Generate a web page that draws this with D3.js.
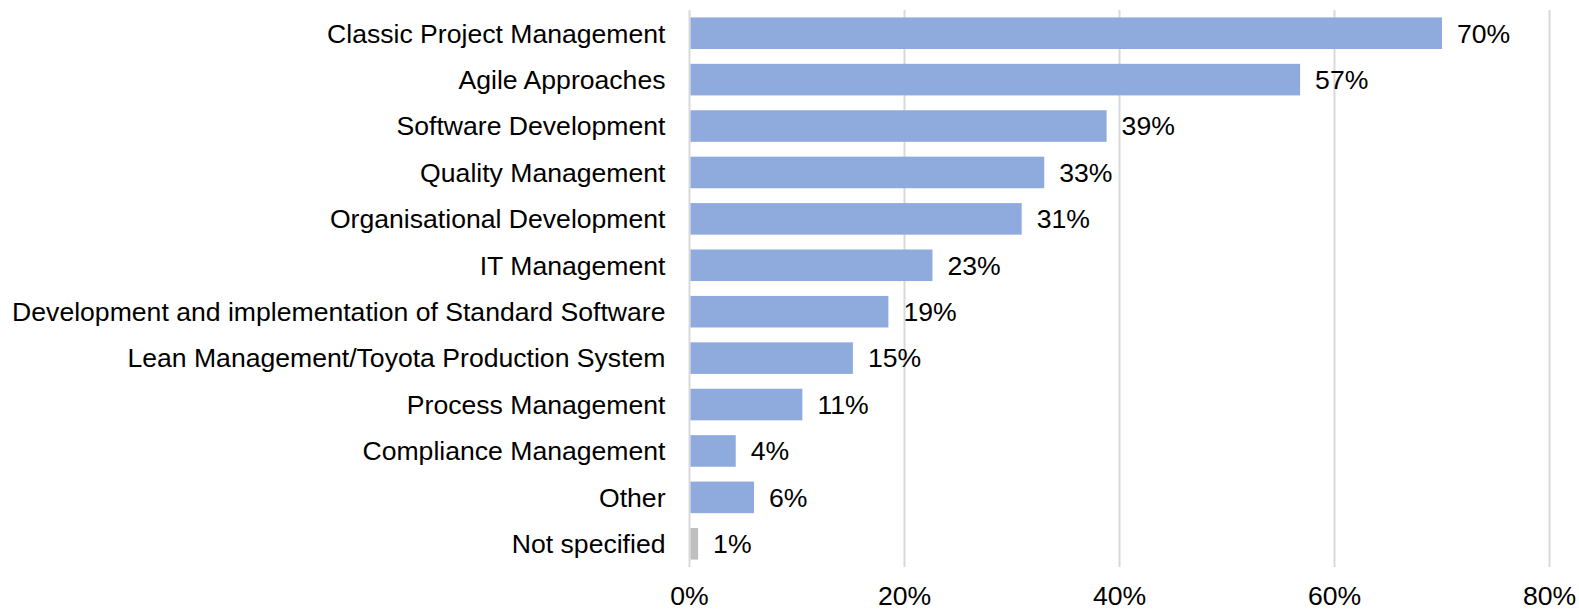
<!DOCTYPE html>
<html>
<head>
<meta charset="utf-8">
<script src="https://cdn.jsdelivr.net/npm/d3@7"></script>
<style>
  body { margin: 0; background: #fff; }
  svg { display: block; font-family: "Liberation Sans", Arial, sans-serif; }
</style>
</head>
<body>
<svg id="chart" width="1579" height="609"></svg>
<script>
// chart data
var categories = [
  "Classic Project Management",
  "Agile Approaches",
  "Software Development",
  "Quality Management",
  "Organisational Development",
  "IT Management",
  "Development and implementation of Standard Software",
  "Lean Management/Toyota Production System",
  "Process Management",
  "Compliance Management",
  "Other",
  "Not specified"
];
var values = [70, 56.8, 38.8, 33, 30.9, 22.6, 18.5, 15.2, 10.5, 4.3, 6.0, 0.8];
var labels = ["70%", "57%", "39%", "33%", "31%", "23%", "19%", "15%", "11%", "4%", "6%", "1%"];
var xTicks = [0, 20, 40, 60, 80];

var svg = d3.select("#chart");
// note: "top" is taken by window.top, so plot edges get their own names
var plotLeft = 689.5, plotRight = 1549.5, plotTop = 10, plotBottom = 567;
var fontSize = 26.6;

var x = d3.scaleLinear().domain([0, 80]).range([plotLeft, plotRight]);
var y = d3.scaleBand()
  .domain(categories)
  .range([plotTop, plotBottom])
  .paddingInner(0.32)
  .paddingOuter(0.16);

// gridlines (the 0 line doubles as the axis)
svg.append("g").selectAll("line")
  .data(xTicks)
  .enter().append("line")
  .attr("x1", function (d) { return x(d); })
  .attr("x2", function (d) { return x(d); })
  .attr("y1", plotTop)
  .attr("y2", plotBottom)
  .attr("stroke", "#d9d9d9")
  .attr("stroke-width", 2);

svg.append("g").selectAll("rect")
  .data(categories)
  .enter().append("rect")
  .attr("x", x(0) + 1)
  .attr("y", function (d) { return y(d); })
  .attr("width", function (d, i) { return x(values[i]) - x(0) - 1; })
  .attr("height", y.bandwidth())
  .attr("fill", function (d, i) { return d == "Not specified" ? "#bfbfbf" : "#8faadc"; });

// value labels
svg.append("g").selectAll("text")
  .data(categories)
  .enter().append("text")
  .attr("x", function (d, i) { return x(values[i]) + 15; })
  .attr("y", function (d) { return y(d) + y.bandwidth() / 2; })
  .attr("dy", "0.35em")
  .attr("font-size", fontSize)
  .attr("fill", "#000")
  .text(function (d, i) { return labels[i]; });

// category labels
svg.append("g").selectAll("text")
  .data(categories)
  .enter().append("text")
  .attr("x", plotLeft - 24)
  .attr("y", function (d) { return y(d) + y.bandwidth() / 2; })
  .attr("dy", "0.35em")
  .attr("text-anchor", "end")
  .attr("font-size", fontSize)
  .attr("fill", "#000")
  .text(function (d) { return d; });

// x tick labels
svg.append("g").selectAll("text")
  .data(xTicks)
  .enter().append("text")
  .attr("x", function (d) { return x(d); })
  .attr("y", 605)
  .attr("text-anchor", "middle")
  .attr("font-size", fontSize)
  .attr("fill", "#000")
  .text(function (d) { return d + "%"; });
</script>
</body>
</html>
